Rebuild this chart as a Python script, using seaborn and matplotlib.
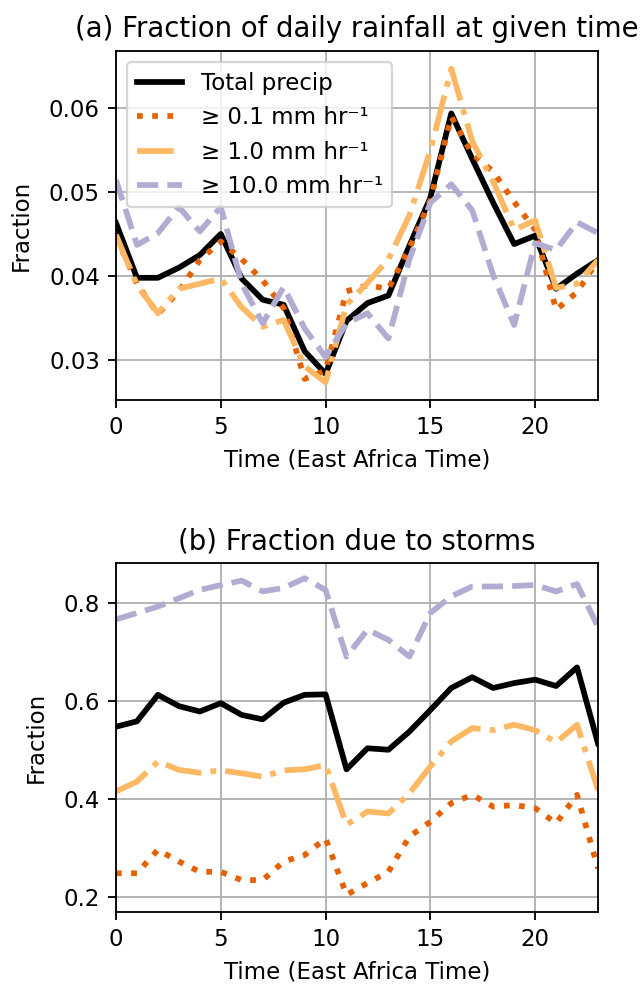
import matplotlib
matplotlib.use("Agg")
import matplotlib.pyplot as plt
import seaborn as sns

hours = list(range(24))

labels = ["Total precip", "≥ 0.1 mm hr⁻¹", "≥ 1.0 mm hr⁻¹", "≥ 10.0 mm hr⁻¹"]
colors = ["black", "#e66101", "#fdb863", "#b2abd2"]
styles = ["-", ":", "-.", "--"]

# (a) Fraction of daily rainfall at given time
daily_total = [0.0463, 0.0398, 0.0398, 0.0410, 0.0425, 0.0450, 0.0397, 0.0372,
               0.0366, 0.0311, 0.0284, 0.0347, 0.0368, 0.0377, 0.0436, 0.0493,
               0.0593, 0.0539, 0.0487, 0.0438, 0.0448, 0.0385, 0.0403, 0.0419]
daily_01 = [0.0447, 0.0391, 0.0355, 0.0382, 0.0419, 0.0441, 0.0420, 0.0395,
            0.0362, 0.0278, 0.0288, 0.0382, 0.0389, 0.0385, 0.0433, 0.0490,
            0.0589, 0.0545, 0.0524, 0.0488, 0.0455, 0.0360, 0.0381, 0.0419]
daily_1 = [0.0449, 0.0389, 0.0356, 0.0385, 0.0391, 0.0397, 0.0363, 0.0340,
           0.0348, 0.0293, 0.0274, 0.0366, 0.0392, 0.0420, 0.0472, 0.0549,
           0.0646, 0.0560, 0.0512, 0.0455, 0.0466, 0.0386, 0.0391, 0.0419]
daily_10 = [0.0514, 0.0437, 0.0451, 0.0482, 0.0453, 0.0482, 0.0391, 0.0344,
            0.0387, 0.0338, 0.0304, 0.0344, 0.0356, 0.0326, 0.0420, 0.0487,
            0.0509, 0.0478, 0.0401, 0.0342, 0.0439, 0.0431, 0.0464, 0.0451]

# (b) Fraction due to storms
storm_total = [0.548, 0.559, 0.613, 0.590, 0.579, 0.596, 0.572, 0.563,
               0.597, 0.613, 0.614, 0.461, 0.504, 0.501, 0.538, 0.582,
               0.627, 0.649, 0.627, 0.637, 0.644, 0.631, 0.669, 0.514]
storm_01 = [0.249, 0.249, 0.297, 0.273, 0.252, 0.252, 0.235, 0.235,
            0.273, 0.286, 0.320, 0.205, 0.229, 0.252, 0.324, 0.354,
            0.392, 0.409, 0.385, 0.388, 0.382, 0.351, 0.409, 0.259]
storm_1 = [0.416, 0.436, 0.477, 0.460, 0.454, 0.459, 0.453, 0.446,
           0.459, 0.461, 0.470, 0.348, 0.375, 0.371, 0.412, 0.467,
           0.518, 0.545, 0.541, 0.552, 0.541, 0.516, 0.552, 0.419]
storm_10 = [0.767, 0.780, 0.793, 0.810, 0.827, 0.837, 0.846, 0.824,
            0.831, 0.851, 0.827, 0.691, 0.746, 0.725, 0.691, 0.780,
            0.814, 0.834, 0.834, 0.835, 0.837, 0.824, 0.839, 0.752]

daily = [daily_total, daily_01, daily_1, daily_10]
storms = [storm_total, storm_01, storm_1, storm_10]

fig = plt.figure(figsize=(643 / 165, 987 / 165), dpi=165)
ax1 = fig.add_axes([0.1804, 0.5947, 0.7496, 0.3536])
ax2 = fig.add_axes([0.1804, 0.0760, 0.7496, 0.3536])

for ax, data in ((ax1, daily), (ax2, storms)):
    for vals, lab, col, ls in zip(data, labels, colors, styles):
        sns.lineplot(x=hours, y=vals, ax=ax, color=col, linestyle=ls,
                     linewidth=2.5, label=lab)
    ax.grid(True)
    ax.set_xlim(0, 23)
    ax.set_xlabel("Time (East Africa Time)")
    ax.set_ylabel("Fraction", labelpad=7)

ax1.set_ylim(0.0253, 0.0667)
ax2.set_ylim(0.170, 0.882)
ax1.set_yticks([0.03, 0.04, 0.05, 0.06])
ax2.set_yticks([0.2, 0.4, 0.6, 0.8])

ax1.set_title("(a) Fraction of daily rainfall at given time", fontsize=12)
ax2.set_title("(b) Fraction due to storms", fontsize=12)

ax1.legend(loc="upper left")
leg2 = ax2.get_legend()
if leg2 is not None:
    leg2.remove()

fig.savefig("out.png", dpi=165)
